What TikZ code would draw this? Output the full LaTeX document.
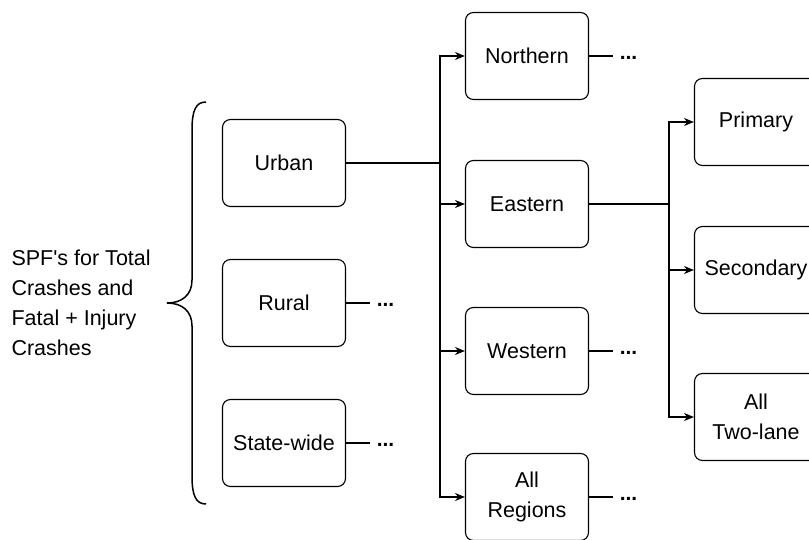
\documentclass[tikz,border=0pt]{standalone}
\usepackage{fontspec}
\setmainfont{Liberation Sans}[Ligatures=TeXOff]
\usetikzlibrary{arrows.meta}
\begin{document}
\begin{tikzpicture}[x=1pt,y=-1pt,
    box/.style={draw,rounded corners=8pt,line width=1.1pt,minimum width=123pt,
      minimum height=87pt,align=center,font=\fontsize{21.5}{30}\selectfont},
    link/.style={line width=1.5pt},
    arr/.style={-{Stealth[length=10pt,width=8pt]}},
    dots/.style={anchor=west,inner sep=0pt,xshift=6pt,yshift=-1.5pt,font=\fontsize{21}{30}\selectfont\bfseries}]
  \useasboundingbox (0,0) rectangle (809,540);
  \clip (0,0) rectangle (809,540);
  \draw
    (8,303) node[anchor=west,align=left,font=\fontsize{21.5}{30}\selectfont] (spf){SPF's for Total\\Crashes and\\Fatal + Injury\\Crashes}
    (284,163) node[box] (urban){Urban}
    (284,303) node[box] (rural){Rural}
    (284,443) node[box] (state){State-wide}
    (527,56) node[box] (north){Northern}
    (527,204) node[box] (east){Eastern}
    (527,351) node[box] (west){Western}
    (527,497) node[box] (allreg){All\\Regions}
    (756,122) node[box] (prim){Primary}
    (756,270) node[box] (sec){Secondary}
    (756,417) node[box] (alltwo){All\\Two-lane};
  \coordinate (ju) at (440,163);
  \coordinate (je) at (669,204);
  \coordinate (rd) at (370,303);
  \coordinate (sd) at (370,443);
  \coordinate (nd) at (613,56);
  \coordinate (wd) at (613,351);
  \coordinate (ad) at (613,497);
  % brace
  \draw[link] (206,102) .. controls (196,102) and (192,110) .. (192,130) -- (192,280)
    .. controls (192,295) and (182,303) .. (167,303)
    .. controls (182,303) and (192,311) .. (192,326) -- (192,476)
    .. controls (192,496) and (196,504) .. (206,504);
  \begin{scope}[link]
    \draw (urban) -- (ju);
    \draw[arr] (ju) |- (north);
    \draw[arr] (ju) |- (east);
    \draw[arr] (ju) |- (west);
    \draw[arr] (ju) |- (allreg);
    \draw (east) -- (je);
    \draw[arr] (je) |- (prim);
    \draw[arr] (je) |- (sec);
    \draw[arr] (je) |- (alltwo);
    \draw (rural) -- (rd) node[dots]{...};
    \draw (state) -- (sd) node[dots]{...};
    \draw (north) -- (nd) node[dots]{...};
    \draw (west) -- (wd) node[dots]{...};
    \draw (allreg) -- (ad) node[dots]{...};
  \end{scope}
\end{tikzpicture}
\end{document}
